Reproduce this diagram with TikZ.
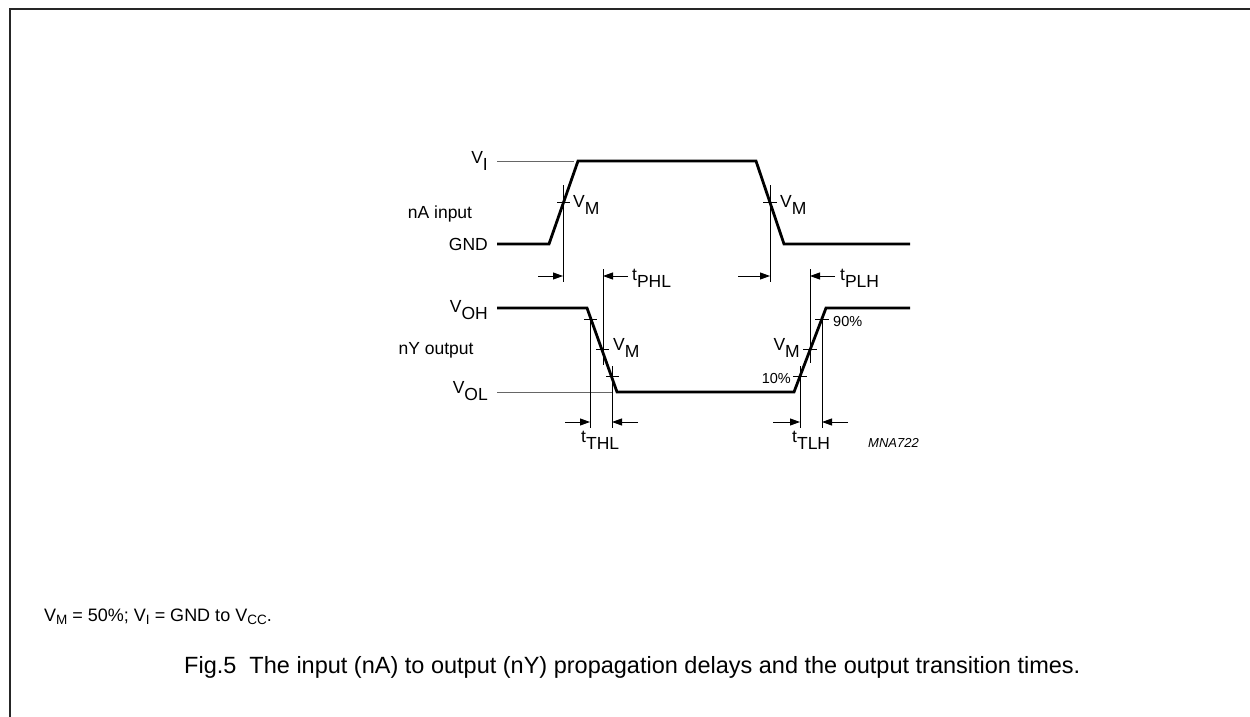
\documentclass[tikz,border=0pt]{standalone}
\usepackage{fontspec}
\setmainfont{Liberation Sans}
\usetikzlibrary{arrows.meta}
\newcommand{\lsb}[1]{\raisebox{-7.5pt}{#1}}
\newcommand{\fsb}[1]{\raisebox{-3.5pt}{\fontsize{13.5}{13.5}\selectfont #1}}
\begin{document}
\begin{tikzpicture}[x=1pt,y=-1pt,
  wave/.style={line width=2.8pt, line join=miter},
  guide/.style={line width=0.9pt},
  refline/.style={line width=1pt, black!60},
  darr/.style={line width=0.9pt, -{Triangle[length=10pt,width=7pt]}},
  lab/.style={font=\fontsize{17.5}{17.5}\selectfont, inner sep=0pt},
  pct/.style={font=\fontsize{14.5}{14.5}\selectfont, inner sep=0pt},
  codelab/.style={font=\fontsize{13}{13}\selectfont\itshape, inner sep=0pt},
  foot/.style={font=\fontsize{18}{18}\selectfont, inner sep=0pt},
  capt/.style={font=\fontsize{23.5}{23.5}\selectfont, inner sep=0pt},
]
\useasboundingbox (0,0) rectangle (1250,717);
% frame
\coordinate (fbl) at (10,717);
\coordinate (ftl) at (10,9);
\coordinate (ftr) at (1250,9);
\draw[line width=2pt, black!85] (fbl) -- (ftl) -- (ftr);

% input waveform
\coordinate (i0) at (497,244);
\coordinate (i1) at (549,244);
\coordinate (i2) at (578,161);
\coordinate (i3) at (756,161);
\coordinate (i4) at (784,244);
\coordinate (i5) at (910,244);
\draw[wave] (i0) -- (i1) -- (i2) -- (i3) -- (i4) -- (i5);
\coordinate (viS) at (497,161);
\coordinate (viE) at (574,161);
\draw[refline] (viS) -- (viE);

% output waveform
\coordinate (o0) at (497,308);
\coordinate (o1) at (587,308);
\coordinate (o2) at (617,392);
\coordinate (o3) at (794,392);
\coordinate (o4) at (826,308);
\coordinate (o5) at (910,308);
\draw[wave] (o0) -- (o1) -- (o2) -- (o3) -- (o4) -- (o5);
\coordinate (volS) at (497,392);
\coordinate (volE) at (613,392);
\draw[refline] (volS) -- (volE);

% input V_M guides
\coordinate (g1t) at (563,185); \coordinate (g1b) at (563,282);
\coordinate (g2t) at (770,185); \coordinate (g2b) at (770,282);
\draw[guide] (g1t) -- (g1b);
\draw[guide] (g2t) -- (g2b);
\coordinate (k1a) at (557,202); \coordinate (k1b) at (570,202);
\coordinate (k2a) at (763,202); \coordinate (k2b) at (777,202);
\draw[guide] (k1a) -- (k1b);
\draw[guide] (k2a) -- (k2b);
\coordinate (a1s) at (538,276); \coordinate (a1e) at (563,276);
\coordinate (a2s) at (738,276); \coordinate (a2e) at (770,276);
\draw[darr] (a1s) -- (a1e);
\draw[darr] (a2s) -- (a2e);

% tPHL / tPLH guides
\coordinate (g3t) at (603,269); \coordinate (g3b) at (603,365);
\coordinate (g4t) at (810,269); \coordinate (g4b) at (810,363);
\draw[guide] (g3t) -- (g3b);
\draw[guide] (g4t) -- (g4b);
\coordinate (a3s) at (628,276); \coordinate (a3e) at (603,276);
\coordinate (a4s) at (835,276); \coordinate (a4e) at (810,276);
\draw[darr] (a3s) -- (a3e);
\draw[darr] (a4s) -- (a4e);

% output falling edge guides
\coordinate (g5t) at (590,315); \coordinate (g5b) at (590,428);
\coordinate (g6t) at (612,366); \coordinate (g6b) at (612,428);
\draw[guide] (g5t) -- (g5b);
\draw[guide] (g6t) -- (g6b);
\coordinate (k5a) at (584,319); \coordinate (k5b) at (597,319);
\coordinate (k3a) at (596,349); \coordinate (k3b) at (609,349);
\coordinate (k6a) at (606,376); \coordinate (k6b) at (619,376);
\draw[guide] (k5a) -- (k5b);
\draw[guide] (k3a) -- (k3b);
\draw[guide] (k6a) -- (k6b);
\coordinate (a5s) at (565,422); \coordinate (a5e) at (590,422);
\coordinate (a6s) at (638,422); \coordinate (a6e) at (612,422);
\draw[darr] (a5s) -- (a5e);
\draw[darr] (a6s) -- (a6e);

% output rising edge guides
\coordinate (g7t) at (800,366); \coordinate (g7b) at (800,428);
\coordinate (g8t) at (822,315); \coordinate (g8b) at (822,428);
\draw[guide] (g7t) -- (g7b);
\draw[guide] (g8t) -- (g8b);
\coordinate (k7a) at (793,376); \coordinate (k7b) at (807,376);
\coordinate (k4a) at (803,349); \coordinate (k4b) at (817,349);
\coordinate (k8a) at (815,319); \coordinate (k8b) at (829,319);
\draw[guide] (k7a) -- (k7b);
\draw[guide] (k4a) -- (k4b);
\draw[guide] (k8a) -- (k8b);
\coordinate (a7s) at (773,422); \coordinate (a7e) at (800,422);
\coordinate (a8s) at (848,422); \coordinate (a8e) at (822,422);
\draw[darr] (a7s) -- (a7e);
\draw[darr] (a8s) -- (a8e);

% left labels
\node[lab, anchor=base east] (lVI) at (488,163) {V\lsb{I}};
\node[lab, anchor=base] (lnA) at (440,218) {nA input};
\node[lab, anchor=base east] (lGND) at (488,250) {GND};
\node[lab, anchor=base east] (lVOH) at (488,312) {V\lsb{OH}};
\node[lab, anchor=base] (lnY) at (436,354) {nY output};
\node[lab, anchor=base east] (lVOL) at (488,393) {V\lsb{OL}};

% V_M labels
\node[lab, anchor=base west] (m1) at (573,207) {V\lsb{M}};
\node[lab, anchor=base west] (m2) at (780,207) {V\lsb{M}};
\node[lab, anchor=base west] (m3) at (613,350) {V\lsb{M}};
\node[lab, anchor=base east] (m4) at (800,350) {V\lsb{M}};
\node[pct, anchor=base east] (p10) at (791,383) {10\%};
\node[pct, anchor=base west] (p90) at (833,326) {90\%};

% time labels
\node[lab, anchor=base west] (tphl) at (632,280) {t\lsb{PHL}};
\node[lab, anchor=base west] (tplh) at (840,280) {t\lsb{PLH}};
\node[lab, anchor=base west] (tthl) at (581,442) {t\lsb{THL}};
\node[lab, anchor=base west] (ttlh) at (792,442) {t\lsb{TLH}};
\node[codelab, anchor=base west] (code) at (868,447) {MNA722};

% footnote and caption
\node[foot, anchor=base west] (fn) at (44,621) {V\fsb{M} = 50\%; V\fsb{I} = GND to V\fsb{CC}.};
\node[capt, anchor=base west] (cap) at (184,673) {Fig.5\ \ The input (nA) to output (nY) propagation delays and the output transition times.};
\end{tikzpicture}
\end{document}
